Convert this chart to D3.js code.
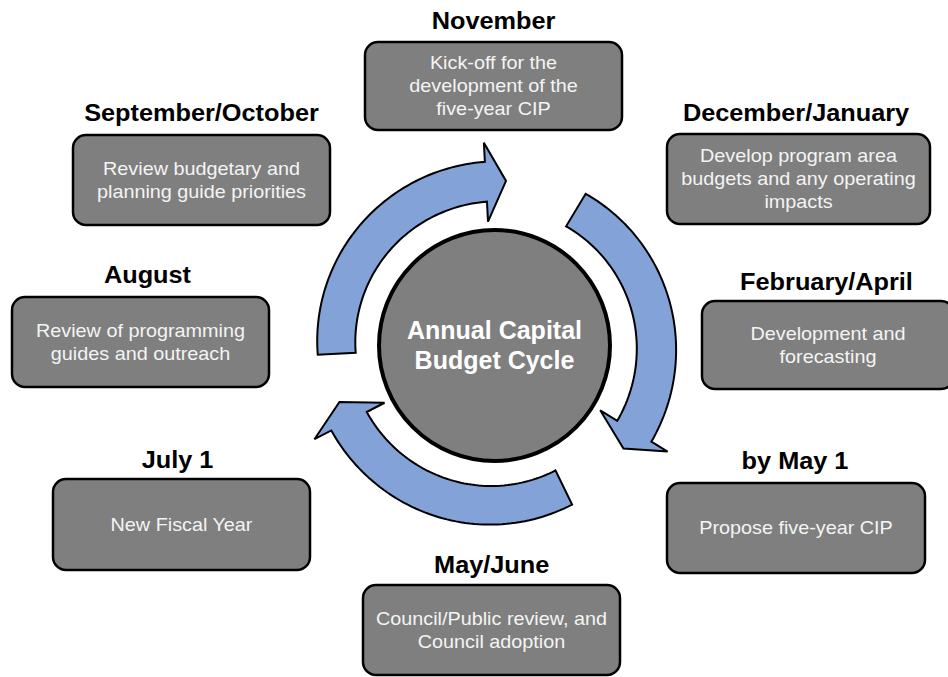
<!DOCTYPE html>
<html>
<head>
<meta charset="utf-8">
<script src="https://cdn.jsdelivr.net/npm/d3@7"></script>
<style>
  html, body { margin: 0; padding: 0; background: #fff; }
  svg { display: block; font-family: "Liberation Sans", Arial, sans-serif; }
</style>
</head>
<body>
<div id="chart"></div>
<script>
// stages of the cycle, clockwise from the top
const stageTitles = [
  "November",
  "December/January",
  "February/April",
  "by May 1",
  "May/June",
  "July 1",
  "August",
  "September/October",
];
const stageTexts = [
  ["Kick-off for the", "development of the", "five-year CIP"],
  ["Develop program area", "budgets and any operating", "impacts"],
  ["Development and", "forecasting"],
  ["Propose five-year CIP"],
  ["Council/Public review, and", "Council adoption"],
  ["New Fiscal Year"],
  ["Review of programming", "guides and outreach"],
  ["Review budgetary and", "planning guide priorities"],
];
const centerLabel = ["Annual Capital", "Budget Cycle"];

// arrows round the hub, angles in degrees (0 = up, clockwise)
const arrowTail = [-93, 31, 154];
const arrowBase = [-3, 121.5, 242.5];
const arrowTip = [4, 128.6, 250];

// ---- layout (boxes are placed by hand round the hub) ----
const W = 948, H = 677;
const cx = 494.5, cy = 345.5;
const boxLayout = [
  { x: 365, y: 42,  w: 257, h: 88, tx: 493.5, ty: 29 },
  { x: 667, y: 134, w: 263, h: 90, tx: 796,   ty: 121 },
  { x: 702, y: 301, w: 252, h: 88, tx: 826.5, ty: 290 },
  { x: 667, y: 483, w: 258, h: 90, tx: 795,   ty: 469 },
  { x: 363, y: 585, w: 257, h: 90, tx: 491.7, ty: 573 },
  { x: 53,  y: 479, w: 257, h: 91, tx: 177.5, ty: 468 },
  { x: 12,  y: 297, w: 257, h: 90, tx: 147.5, ty: 283 },
  { x: 73,  y: 135, w: 257, h: 90, tx: 201.5, ty: 121 },
];

const boxFill = "#7f7f7f";
const arrowFill = "#83a3d8";
const stretch = 1.1; // text in the boxes is drawn a little wide

const svg = d3.select("#chart").append("svg")
  .attr("width", W).attr("height", H);

const rad = d3.scaleLinear().domain([0, 360]).range([0, 2 * Math.PI]);
const polar = (r, deg) => [cx + r * Math.sin(rad(deg)), cy - r * Math.cos(rad(deg))];

// ---- arrows ----
const arrowsG = svg.append("g");
arrowTail.forEach((t0, i) => {
  const t1 = arrowBase[i];
  // the band drifts outward slightly from tail to head
  const rIn = d3.scaleLinear().domain([t0, t1]).range([139, 144]);
  const rOut = d3.scaleLinear().domain([t0, t1]).range([177, 184]);
  const steps = d3.range(0, 61).map((k) => t0 + (t1 - t0) * k / 60);
  const outer = steps.map((a) => polar(rOut(a), a));
  const inner = steps.slice().reverse().map((a) => polar(rIn(a), a));
  const head = [polar(203, t1), polar(165, arrowTip[i]), polar(124, t1)];
  const pts = [...outer, ...head, ...inner];
  arrowsG.append("path")
    .attr("d", d3.line()(pts) + "Z")
    .attr("fill", arrowFill)
    .attr("stroke", "#000")
    .attr("stroke-width", 2)
    .attr("stroke-linejoin", "miter");
});

// ---- hub ----
svg.append("circle")
  .attr("cx", cx).attr("cy", cy).attr("r", 115.5)
  .attr("fill", boxFill)
  .attr("stroke", "#000")
  .attr("stroke-width", 4);

svg.append("g").selectAll("text")
  .data(centerLabel)
  .join("text")
  .attr("x", cx)
  .attr("y", (d, i) => 339 + i * 30)
  .attr("text-anchor", "middle")
  .attr("fill", "#fff")
  .attr("font-size", "25px")
  .attr("font-weight", "bold")
  .text((d) => d);

// ---- stage boxes ----
const stage = svg.append("g").selectAll("g.stage")
  .data(stageTitles.map((title, i) => ({ title, lines: stageTexts[i], ...boxLayout[i] })))
  .join("g")
  .attr("class", "stage");

stage.append("rect")
  .attr("x", (d) => d.x).attr("y", (d) => d.y)
  .attr("width", (d) => d.w).attr("height", (d) => d.h)
  .attr("rx", 13)
  .attr("fill", boxFill)
  .attr("stroke", "#000")
  .attr("stroke-width", 2.5);

stage.append("text")
  .attr("transform", (d) => `translate(${d.tx},${d.ty}) scale(${stretch},1)`)
  .attr("text-anchor", "middle")
  .attr("font-size", "23px")
  .attr("font-weight", "bold")
  .attr("fill", "#000")
  .text((d) => d.title);

stage.each(function (d) {
  const n = d.lines.length;
  const mid = d.y + d.h / 2;
  d3.select(this).selectAll("text.desc")
    .data(d.lines)
    .join("text")
    .attr("class", "desc")
    .attr("transform", (line, i) =>
      `translate(${d.x + d.w / 2},${mid + (i - (n - 1) / 2) * 23 + 6}) scale(${stretch},1)`)
    .attr("text-anchor", "middle")
    .attr("font-size", "18px")
    .attr("fill", "#f4f4f4")
    .text((line) => line);
});
</script>
</body>
</html>
